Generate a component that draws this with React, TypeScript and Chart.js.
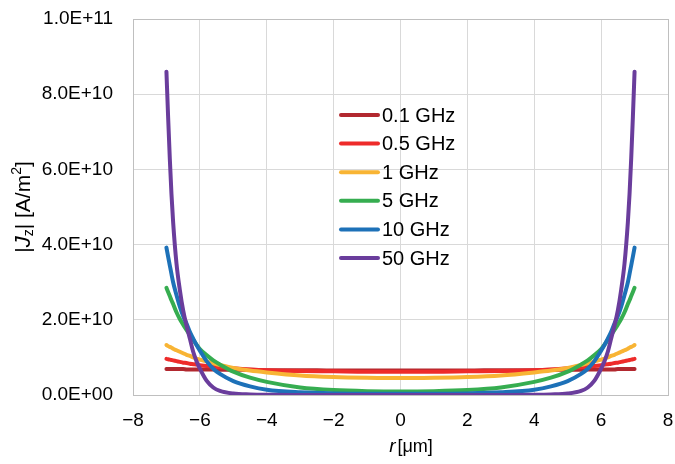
import React, { useEffect, useRef } from "react";
import { Chart, registerables } from "chart.js";

Chart.register(...registerables);

// r positions in µm
const R_UM = [
  -7, -6.95, -6.9, -6.85, -6.8, -6.7, -6.6, -6.5, -6.4, -6.3, -6.2, -6.1, -6, -5.8, -5.6, -5.4, -5, -4.5, -4, -3, -2, -1, 0,
  1, 2, 3, 4, 4.5, 5, 5.4, 5.6, 5.8, 6, 6.1, 6.2, 6.3, 6.4, 6.5, 6.6, 6.7, 6.8, 6.85, 6.9, 6.95, 7,
];

// |Jz| values in units of 1E+10 A/m²
const J_0_1GHZ = [
  0.69, 0.69, 0.69, 0.69, 0.69, 0.69, 0.69, 0.69, 0.68, 0.68, 0.68, 0.68, 0.68, 0.68, 0.68, 0.67, 0.67, 0.67, 0.66, 0.66, 0.65, 0.65, 0.65,
  0.65, 0.65, 0.66, 0.66, 0.67, 0.67, 0.67, 0.68, 0.68, 0.68, 0.68, 0.68, 0.68, 0.68, 0.69, 0.69, 0.69, 0.69, 0.69, 0.69, 0.69, 0.69,
];
const J_0_5GHZ = [
  0.96, 0.95, 0.94, 0.93, 0.92, 0.9, 0.88, 0.86, 0.85, 0.83, 0.82, 0.81, 0.79, 0.77, 0.75, 0.74, 0.71, 0.68, 0.66, 0.64, 0.63, 0.62, 0.62,
  0.62, 0.63, 0.64, 0.66, 0.68, 0.71, 0.74, 0.75, 0.77, 0.79, 0.81, 0.82, 0.83, 0.85, 0.86, 0.88, 0.9, 0.92, 0.93, 0.94, 0.95, 0.96,
];
const J_1GHZ = [
  1.33, 1.3, 1.28, 1.26, 1.23, 1.19, 1.15, 1.11, 1.07, 1.04, 1.0, 0.97, 0.94, 0.89, 0.84, 0.8, 0.72, 0.65, 0.6, 0.52, 0.48, 0.46, 0.45,
  0.46, 0.48, 0.52, 0.6, 0.65, 0.72, 0.8, 0.84, 0.89, 0.94, 0.97, 1.0, 1.04, 1.07, 1.11, 1.15, 1.19, 1.23, 1.26, 1.28, 1.3, 1.33,
];
const J_5GHZ = [
  2.85, 2.74, 2.63, 2.52, 2.42, 2.2, 2.02, 1.87, 1.73, 1.6, 1.47, 1.34, 1.22, 1.06, 0.92, 0.81, 0.62, 0.46, 0.35, 0.2, 0.13, 0.1, 0.09,
  0.1, 0.13, 0.2, 0.35, 0.46, 0.62, 0.81, 0.92, 1.06, 1.22, 1.34, 1.47, 1.6, 1.73, 1.87, 2.02, 2.2, 2.42, 2.52, 2.63, 2.74, 2.85,
];
const J_10GHZ = [
  3.92, 3.68, 3.45, 3.22, 3.0, 2.66, 2.35, 2.1, 1.9, 1.68, 1.5, 1.33, 1.18, 0.9, 0.7, 0.56, 0.37, 0.23, 0.14, 0.07, 0.04, 0.03, 0.03,
  0.03, 0.04, 0.07, 0.14, 0.23, 0.37, 0.56, 0.7, 0.9, 1.18, 1.33, 1.5, 1.68, 1.9, 2.1, 2.35, 2.66, 3.0, 3.22, 3.45, 3.68, 3.92,
];
const J_50GHZ = [
  8.6, 7.4, 6.3, 5.35, 4.6, 3.5, 2.8, 2.25, 1.85, 1.5, 1.15, 0.9, 0.7, 0.38, 0.2, 0.11, 0.04, 0.015, 0.005, 0.001, 0, 0, 0,
  0, 0, 0.001, 0.005, 0.015, 0.04, 0.11, 0.2, 0.38, 0.7, 0.9, 1.15, 1.5, 1.85, 2.25, 2.8, 3.5, 4.6, 5.35, 6.3, 7.4, 8.6,
];

const SERIES_LABELS = ["0.1 GHz", "0.5 GHz", "1 GHz", "5 GHz", "10 GHz", "50 GHz"];
const SERIES_VALUES = [J_0_1GHZ, J_0_5GHZ, J_1GHZ, J_5GHZ, J_10GHZ, J_50GHZ];
const SERIES_COLORS = ["#B2282F", "#EE2B2A", "#F8B434", "#36AD50", "#1D71B8", "#6A3D9C"];

const Y_TICK_LABELS = ["0.0E+00", "2.0E+10", "4.0E+10", "6.0E+10", "8.0E+10", "1.0E+11"];
const X_TICK_LABELS = ["−8", "−6", "−4", "−2", "0", "2", "4", "6", "8"];

const FONT = "'Liberation Sans', Arial, sans-serif";
const FONT_SIZE = 19;

const axisTitlePlugin = {
  id: "axisTitles",
  afterDraw(chart: any) {
    const ctx = chart.ctx as CanvasRenderingContext2D;
    const area = chart.chartArea;
    ctx.save();
    ctx.fillStyle = "#000";
    ctx.textBaseline = "middle";
    ctx.textAlign = "left";
    const normal = `21px ${FONT}`;
    const italic = `italic 22px ${FONT}`;
    const small = `14px ${FONT}`;

    // Y title: |Jz| [A/m2]
    const parts: { t: string; f: string; dy: number }[] = [
      { t: "|", f: normal, dy: 0 },
      { t: "J", f: italic, dy: 0 },
      { t: "z", f: small, dy: 5 },
      { t: "| [A/m", f: normal, dy: 0 },
      { t: "2", f: small, dy: -7 },
      { t: "]", f: normal, dy: 0 },
    ];
    let total = 0;
    for (const p of parts) {
      ctx.font = p.f;
      total += ctx.measureText(p.t).width;
    }
    const cy = (area.top + area.bottom) / 2;
    ctx.translate(24, cy);
    ctx.rotate(-Math.PI / 2);
    let x = -total / 2;
    for (const p of parts) {
      ctx.font = p.f;
      ctx.fillText(p.t, x, p.dy);
      x += ctx.measureText(p.t).width;
    }
    ctx.setTransform(1, 0, 0, 1, 0, 0);

    // X title: r [µm]
    const xp = [
      { t: "r", f: `italic 19px ${FONT}`, gap: 2 },
      { t: "[μm]", f: `18px ${FONT}`, gap: 0 },
    ];
    let w = 0;
    for (const p of xp) {
      ctx.font = p.f;
      w += ctx.measureText(p.t).width + p.gap;
    }
    let xx = 411 - w / 2;
    for (const p of xp) {
      ctx.font = p.f;
      ctx.fillText(p.t, xx, 447);
      xx += ctx.measureText(p.t).width + p.gap;
    }
    ctx.restore();
  },
};

const legendPlugin = {
  id: "innerLegend",
  afterDraw(chart: any) {
    const ctx = chart.ctx as CanvasRenderingContext2D;
    ctx.save();
    ctx.font = `20px ${FONT}`;
    ctx.textBaseline = "middle";
    ctx.textAlign = "left";
    SERIES_LABELS.forEach((label, i) => {
      const y = 115 + i * 28.6;
      ctx.strokeStyle = SERIES_COLORS[i];
      ctx.lineWidth = 4;
      ctx.lineCap = "round";
      ctx.beginPath();
      ctx.moveTo(341, y);
      ctx.lineTo(378, y);
      ctx.stroke();
      ctx.fillStyle = "#000";
      ctx.fillText(label, 382, y + 1);
    });
    ctx.restore();
  },
};

export default function App() {
  const canvasRef = useRef<HTMLCanvasElement | null>(null);

  useEffect(() => {
    document.body.style.margin = "0";
    const canvas = canvasRef.current;
    if (!canvas) return;
    const datasets = SERIES_LABELS.map((label, i) => ({
      label,
      data: R_UM.map((r, k) => ({ x: r, y: SERIES_VALUES[i][k] })),
      borderColor: SERIES_COLORS[i],
      backgroundColor: SERIES_COLORS[i],
      borderWidth: 4,
      pointRadius: 0,
      fill: false,
      cubicInterpolationMode: "monotone" as const,
      borderCapStyle: "round" as const,
      borderJoinStyle: "round" as const,
      order: SERIES_LABELS.length - i,
    }));
    const chart = new Chart(canvas, {
      type: "line",
      data: { datasets },
      options: {
        responsive: false,
        animation: false,
        devicePixelRatio: 1,
        layout: { padding: { top: 19, right: 7, left: 0, bottom: 0 } },
        plugins: { legend: { display: false }, tooltip: { enabled: false } },
        scales: {
          x: {
            type: "linear",
            min: -8,
            max: 8,
            afterFit: (s: any) => {
              s.height = 69;
              s.paddingLeft = 0;
              s.paddingRight = 0;
            },
            ticks: {
              stepSize: 2,
              padding: 14,
              color: "#000",
              font: { family: FONT, size: FONT_SIZE },
              callback: (_v: any, i: number) => X_TICK_LABELS[i],
            },
            grid: {
              drawTicks: false,
              color: (c: any) => (c.tick && c.tick.value === 8 ? "#BFBFBF" : "#D9D9D9"),
              lineWidth: 1,
            },
            border: { display: true, color: "#BFBFBF", width: 1 },
          },
          y: {
            type: "linear",
            min: 0,
            max: 10,
            afterFit: (s: any) => {
              s.width = 133;
              s.paddingTop = 0;
              s.paddingBottom = 0;
            },
            ticks: {
              stepSize: 2,
              padding: 20,
              color: "#000",
              font: { family: FONT, size: FONT_SIZE },
              callback: (_v: any, i: number) => Y_TICK_LABELS[i],
            },
            grid: {
              drawTicks: false,
              color: (c: any) => (c.tick && c.tick.value === 10 ? "#BFBFBF" : "#D9D9D9"),
              lineWidth: 1,
            },
            border: { display: true, color: "#BFBFBF", width: 1 },
          },
        },
      },
      plugins: [axisTitlePlugin, legendPlugin],
    });
    return () => chart.destroy();
  }, []);

  return (
    <div style={{ position: "absolute", left: 0, top: 0, width: 675, height: 464, background: "#fff" }}>
      <canvas ref={canvasRef} width={675} height={464} style={{ display: "block" }} />
    </div>
  );
}
